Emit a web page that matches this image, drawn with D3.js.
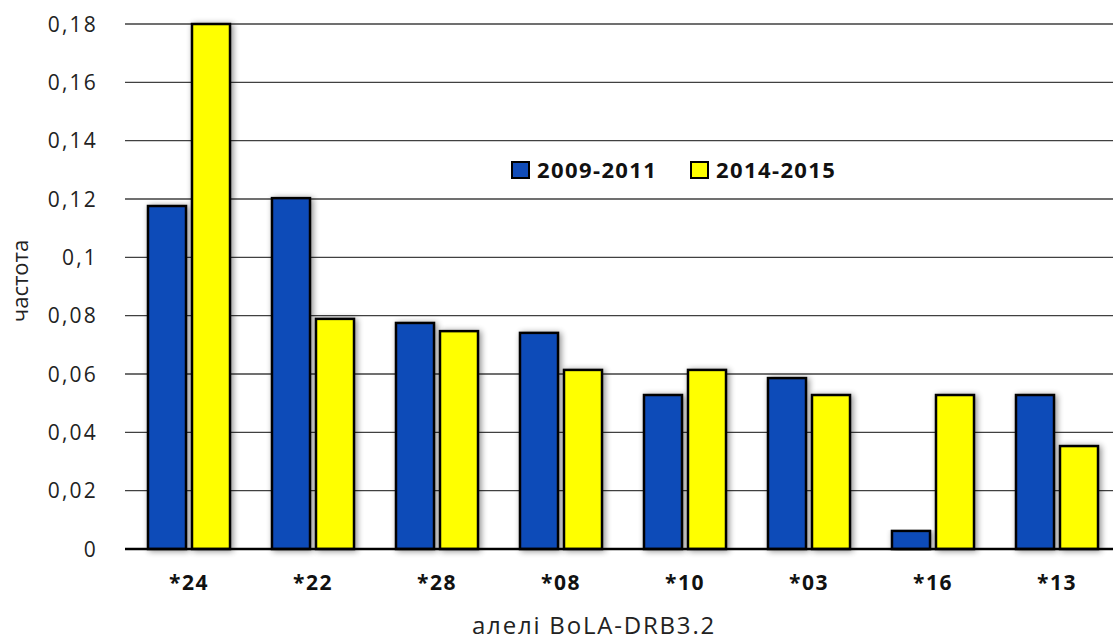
<!DOCTYPE html>
<html>
<head>
<meta charset="utf-8">
<script src="https://cdn.jsdelivr.net/npm/d3@7"></script>
<style>
  html, body { margin: 0; padding: 0; background: #fff; }
  svg { display: block; font-family: "Open Sans", "Noto Sans", sans-serif; }
</style>
</head>
<body>
<svg id="chart" width="1113" height="642"></svg>
<script>
// Allele frequencies of BoLA-DRB3.2 in two sampling periods
const alleles = ["*24", "*22", "*28", "*08", "*10", "*03", "*16", "*13"];
const seriesNames = ["2009-2011", "2014-2015"];
const freq2009 = [0.1176, 0.1203, 0.0775, 0.0741, 0.0528, 0.0586, 0.0062, 0.0528];
const freq2014 = [0.18, 0.0789, 0.0747, 0.0614, 0.0614, 0.0528, 0.0528, 0.0353];
const yTicks = [0, 0.02, 0.04, 0.06, 0.08, 0.1, 0.12, 0.14, 0.16, 0.18];
const colors = ["#114cb8", "#ffff00"];

const svg = d3.select("#chart");

const x = d3.scaleBand().domain(alleles).range([127, 1119]).paddingInner(0).paddingOuter(0);
const xs = d3.scaleBand().domain(seriesNames).range([0, x.bandwidth()]).paddingInner(0.136).paddingOuter(0.477);
const y = d3.scaleLinear().domain([0, 0.18]).range([549, 24]);

// soft drop shadow behind bars
const defs = svg.append("defs");
const f = defs.append("filter").attr("id", "shadow").attr("x", "-40%").attr("y", "-10%").attr("width", "180%").attr("height", "120%");
f.append("feGaussianBlur").attr("in", "SourceAlpha").attr("stdDeviation", 3).attr("result", "b");
f.append("feOffset").attr("in", "b").attr("dx", 1.5).attr("dy", 1).attr("result", "o");
f.append("feComponentTransfer").attr("in", "o").attr("result", "s")
  .append("feFuncA").attr("type", "linear").attr("slope", 0.45);
const m = f.append("feMerge");
m.append("feMergeNode").attr("in", "s");
m.append("feMergeNode").attr("in", "SourceGraphic");

// horizontal gridlines
svg.append("g").selectAll("line").data(yTicks.filter(d => d > 0)).join("line")
  .attr("x1", 125).attr("x2", 1113)
  .attr("y1", d => y(d)).attr("y2", d => y(d))
  .attr("stroke", "#404040").attr("stroke-width", 1.3);

// y tick labels, decimal comma
const fmt = d => d === 0 ? "0" : d3.format(".2f")(d).replace(/0$/, "").replace(".", ",");
svg.append("g").selectAll("text").data(yTicks).join("text")
  .attr("x", 98).attr("y", d => y(d)).attr("dy", "0.36em")
  .attr("text-anchor", "end").attr("font-size", 21).attr("letter-spacing", 2.2).attr("fill", "#222")
  .text(fmt);

// bars
const data = alleles.map((a, i) => ({ allele: a, values: [freq2009[i], freq2014[i]] }));
const groups = svg.append("g").selectAll("g").data(data).join("g")
  .attr("transform", d => `translate(${x(d.allele)},0)`);
groups.selectAll("rect").data(d => d.values.map((v, j) => ({ v, s: seriesNames[j], c: colors[j] }))).join("rect")
  .attr("x", d => xs(d.s)).attr("width", xs.bandwidth())
  .attr("y", d => y(d.v)).attr("height", d => y(0) - y(d.v))
  .attr("fill", d => d.c).attr("stroke", "#000").attr("stroke-width", 2.5)
  .attr("filter", "url(#shadow)");

// baseline
svg.append("line").attr("x1", 125).attr("x2", 1113).attr("y1", y(0)).attr("y2", y(0))
  .attr("stroke", "#000").attr("stroke-width", 2.5);

// category labels
svg.append("g").selectAll("text").data(alleles).join("text")
  .attr("x", d => x(d) + x.bandwidth() / 2).attr("y", 590)
  .attr("text-anchor", "middle").attr("font-size", 21).attr("font-weight", "bold")
  .attr("letter-spacing", 1.5).attr("fill", "#111")
  .text(d => d);

// axis titles
svg.append("text").attr("x", 594).attr("y", 634).attr("text-anchor", "middle")
  .attr("font-size", 24).attr("letter-spacing", 1.8).attr("fill", "#222").text("алелі BoLA-DRB3.2");
svg.append("text").attr("transform", "translate(28,281) rotate(-90)").attr("text-anchor", "middle")
  .attr("font-size", 22).attr("fill", "#222").text("частота");

// legend
const legendX = [512, 691];
const lg = svg.append("g").selectAll("g").data(seriesNames).join("g")
  .attr("transform", (d, i) => `translate(${legendX[i]},162)`);
lg.append("rect").attr("width", 17).attr("height", 16)
  .attr("fill", (d, i) => colors[i]).attr("stroke", "#000").attr("stroke-width", 2);
lg.append("text").attr("x", 25).attr("y", 8).attr("dy", "0.36em")
  .attr("font-size", 22).attr("font-weight", "bold").attr("letter-spacing", 1.4).attr("fill", "#111").text(d => d);
</script>
</body>
</html>
